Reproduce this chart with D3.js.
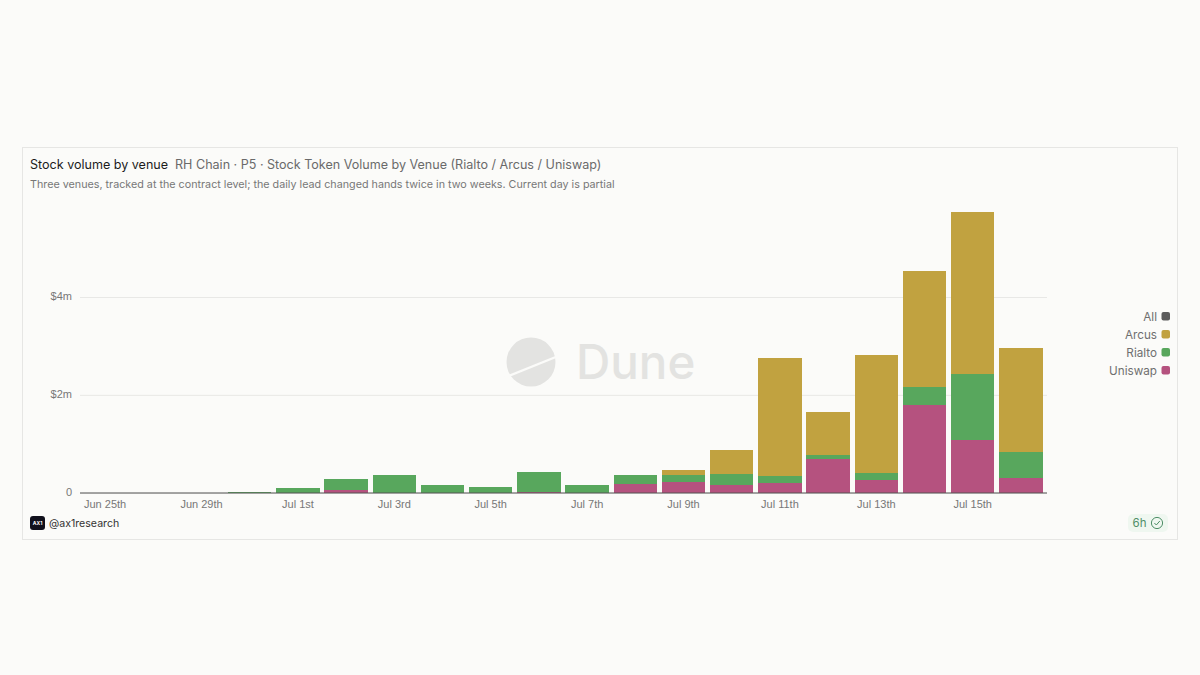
<!DOCTYPE html>
<html>
<head>
<meta charset="utf-8">
<script src="https://cdn.jsdelivr.net/npm/d3@7"></script>
<style>
  html, body { margin: 0; padding: 0; background: #fbfbf9; }
  svg { display: block; font-family: Inter, "Liberation Sans", sans-serif; }
</style>
</head>
<body>
<svg id="chart" width="1200" height="675"></svg>
<script>
// values in $m
var days = ["Jun 25th", "Jun 26th", "Jun 29th", "Jun 30th", "Jul 1st", "Jul 2nd", "Jul 3rd", "Jul 4th", "Jul 5th", "Jul 6th",
            "Jul 7th", "Jul 8th", "Jul 9th", "Jul 10th", "Jul 11th", "Jul 12th", "Jul 13th", "Jul 14th", "Jul 15th", "Jul 16th"];
var tickDays = ["Jun 25th", "Jun 29th", "Jul 1st", "Jul 3rd", "Jul 5th", "Jul 7th", "Jul 9th", "Jul 11th", "Jul 13th", "Jul 15th"];
var uniswap = [0, 0, 0, 0, 0, 0.055, 0, 0, 0, 0.01, 0, 0.17, 0.21, 0.15, 0.19, 0.69, 0.25, 1.80, 1.075, 0.30];
var rialto = [0.002, 0.002, 0.003, 0.008, 0.10, 0.215, 0.37, 0.15, 0.12, 0.41, 0.15, 0.197, 0.156, 0.23, 0.156, 0.09, 0.156, 0.36, 1.347, 0.524];
var arcus = [0, 0, 0, 0, 0, 0, 0, 0, 0, 0, 0, 0, 0.095, 0.50, 2.41, 0.878, 2.41, 2.37, 3.31, 2.13];
var venues = ["Uniswap", "Rialto", "Arcus"];
var legendNames = ["All", "Arcus", "Rialto", "Uniswap"];
var legendColors = ["#5c5c5c", "#c1a240", "#58a75d", "#b5527f"];
var yTicks = [0, 2, 4];

var venueColor = d3.scaleOrdinal().domain(legendNames).range(legendColors);

var svg = d3.select("#chart");

// card
svg.append("rect")
    .attr("x", 22.5).attr("y", 147.5)
    .attr("width", 1155).attr("height", 392)
    .attr("fill", "#fbfbf9")
    .attr("stroke", "#e6e6e4");

// header
var head = svg.append("text").attr("x", 30).attr("y", 168.5).style("font-size", "12.55px");
head.append("tspan").attr("fill", "#1c1c1c").text("Stock volume by venue");
head.append("tspan").attr("dx", 7).attr("fill", "#6a6a6a").text("RH Chain · P5 · Stock Token Volume by Venue (Rialto / Arcus / Uniswap)");
svg.append("text")
    .attr("x", 30).attr("y", 188)
    .attr("fill", "#777")
    .style("font-size", "10.75px")
    .text("Three venues, tracked at the contract level; the daily lead changed hands twice in two weeks. Current day is partial");

var x = d3.scaleBand().domain(days).range([81, 1045]).paddingInner(0.1).paddingOuter(0.05);
var y = d3.scaleLinear().domain([0, 4]).range([492.7, 297]);

// gridlines + y labels
var yAxis = svg.append("g")
    .attr("transform", "translate(80,0)")
    .call(d3.axisLeft(y).tickValues(yTicks).tickSize(-967).tickPadding(8)
        .tickFormat(function(d) { return d == 0 ? "0" : "$" + d + "m"; }));
yAxis.select(".domain").remove();
yAxis.selectAll("line").attr("stroke", "#e8e8e6");
yAxis.selectAll("text").attr("fill", "#777").style("font-size", "11px").attr("dy", "0.25em");

// watermark
var mark = svg.append("g");
mark.append("circle").attr("cx", 531).attr("cy", 362).attr("r", 24.5).attr("fill", "#e3e3e1");
mark.append("line")
    .attr("x1", 505).attr("y1", 377.5).attr("x2", 557).attr("y2", 356.5)
    .attr("stroke", "#fbfbf9").attr("stroke-width", 2.4);
mark.append("text")
    .attr("x", 576).attr("y", 379)
    .attr("fill", "#e3e3e1")
    .style("font-size", "47.5px")
    .style("font-weight", 500)
    .text("Dune");

// stacked bars
var rows = days.map(function(d, i) {
    return { day: d, Uniswap: uniswap[i], Rialto: rialto[i], Arcus: arcus[i] };
});
var stacked = d3.stack().keys(venues)(rows);
svg.append("g").selectAll("g")
    .data(stacked)
    .enter()
    .append("g")
      .attr("fill", function(s) { return venueColor(s.key); })
      .attr("shape-rendering", "crispEdges")
    .selectAll("rect")
    .data(function(s) { return s; })
    .enter()
    .append("rect")
      .attr("x", function(d) { return x(d.data.day); })
      .attr("width", x.bandwidth())
      .attr("y", function(d) { return y(d[1]); })
      .attr("height", function(d) { return y(d[0]) - y(d[1]); });

// x axis
var xAxis = svg.append("g")
    .attr("transform", "translate(0,493)")
    .call(d3.axisBottom(x).tickValues(tickDays).tickSize(0).tickPadding(7));
xAxis.select(".domain").attr("stroke", "#555").attr("stroke-width", 1.2).attr("d", "M80,0H1047");
xAxis.selectAll("text").attr("fill", "#777").style("font-size", "11px");

// legend
var legend = svg.append("g").selectAll("g")
    .data(legendNames)
    .enter()
    .append("g")
      .attr("transform", function(d, i) { return "translate(0," + (316 + i * 18) + ")"; });
legend.append("text")
    .attr("x", 1157).attr("y", 4.5)
    .attr("text-anchor", "end")
    .attr("fill", "#6f6f6f")
    .style("font-size", "11.7px")
    .text(function(d) { return d; });
legend.append("rect")
    .attr("x", 1161.5).attr("y", -4)
    .attr("width", 8.5).attr("height", 8.5)
    .attr("rx", 2)
    .attr("fill", function(d) { return venueColor(d); });

// footer: author
svg.append("rect").attr("x", 30).attr("y", 516).attr("width", 15).attr("height", 14).attr("rx", 3).attr("fill", "#10101c");
svg.append("text")
    .attr("x", 37.5).attr("y", 525)
    .attr("text-anchor", "middle")
    .attr("fill", "#fff")
    .style("font-size", "5px")
    .style("font-weight", 700)
    .text("AX1");
svg.append("text")
    .attr("x", 49).attr("y", 527)
    .attr("fill", "#333")
    .style("font-size", "10.6px")
    .text("@ax1research");

// footer: freshness badge
svg.append("rect").attr("x", 1128).attr("y", 514).attr("width", 40).attr("height", 18).attr("rx", 5).attr("fill", "#eff7f0");
svg.append("text")
    .attr("x", 1132.5).attr("y", 527)
    .attr("fill", "#4f8f68")
    .style("font-size", "11.5px")
    .text("6h");
svg.append("circle").attr("cx", 1157).attr("cy", 523).attr("r", 5.6)
    .attr("fill", "none").attr("stroke", "#4f8f68").attr("stroke-width", 1);
svg.append("path")
    .attr("d", d3.line()([[1154.4, 523], [1156.3, 525], [1159.8, 521]]))
    .attr("fill", "none").attr("stroke", "#4f8f68").attr("stroke-width", 1);
</script>
</body>
</html>
